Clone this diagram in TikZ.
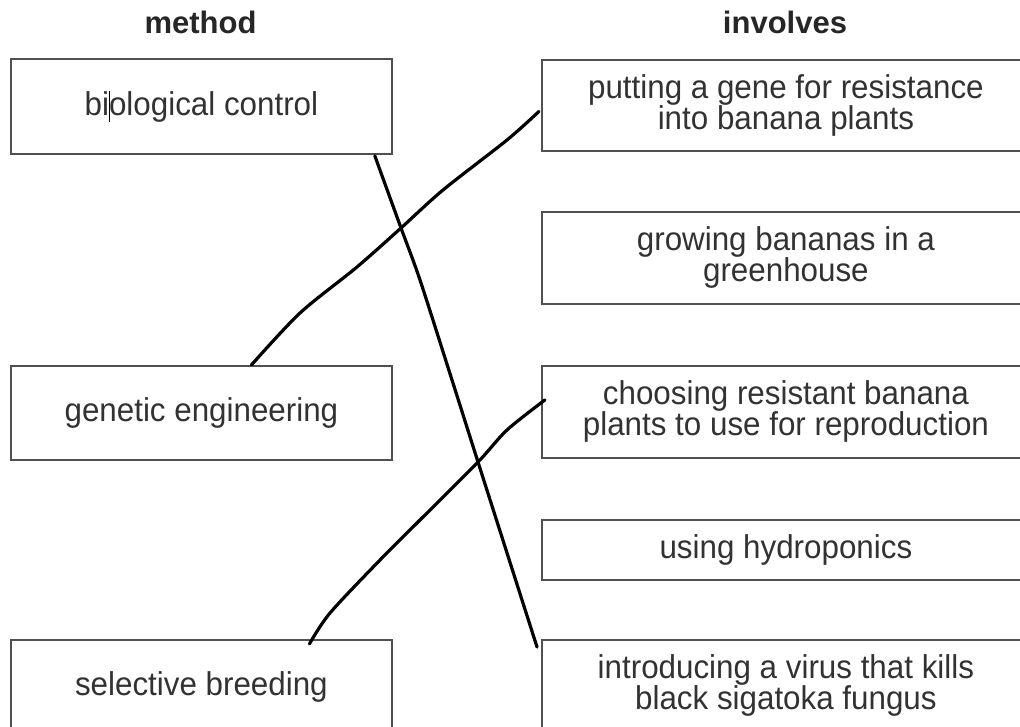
\documentclass[tikz,border=0pt]{standalone}
\usepackage{fontspec}
\setmainfont{Liberation Sans}
\newfontfamily\boxfont{Liberation Sans}[FakeStretch=0.95]
\usetikzlibrary{calc}
\definecolor{boxgray}{RGB}{80,80,80}
\definecolor{textgray}{RGB}{50,50,50}

\begin{document}
\begin{tikzpicture}[x=1pt,y=-1pt,
        choice/.style={draw=boxgray,line width=1.8pt,anchor=north west,align=center,
            text=textgray,inner sep=0pt,
            font={\boxfont\fontsize{33}{31}\selectfont\lineskiplimit=-30pt}},
        methodbox/.style={choice,minimum width=381pt},
        involvebox/.style={choice,minimum width=488pt},
        head/.style={anchor=base,text=black!85,font={\bfseries\fontsize{31}{34}\selectfont}},
        link/.style={black,line width=3.2pt,line cap=round,line join=round}
    ]
        \useasboundingbox (0,0) rectangle (1020,727);
        \clip (0,0) rectangle (1020,727);
        \node[head] (methodhd) at (200.5,34) {method};
        \node[head] (involveshd) at (785,34) {involves};
        \node[methodbox,minimum height=95pt] (bio) at (10,58)
            {bi\rlap{\color{black}\rule[-0.2em]{1.2pt}{0.95em}}ological control};
        \node[methodbox,minimum height=94pt] (gen) at (10,365) {genetic engineering};
        \node[methodbox,minimum height=95pt] (sel) at (10,639) {selective breeding};
        \node[involvebox,minimum height=91pt] (put) at (541,59)
            {putting a gene for resistance\\into banana plants};
        \node[involvebox,minimum height=92pt] (grow) at (541,211)
            {growing bananas in a\\greenhouse};
        \node[involvebox,minimum height=92pt] (choose) at (541,365)
            {choosing resistant banana\\plants to use for reproduction};
        \node[involvebox,minimum height=60pt] (hydro) at (541,519) {using hydroponics};
        \node[involvebox,minimum height=91pt] (intro) at (541,639)
            {introducing a virus that kills\\black sigatoka fungus};
        \draw[link] plot[smooth] coordinates {($(bio.south east)+(-18,1)$) (401,228) (420,280)
            (452,380) (478,462) ($(intro.north west)+(-4,8)$)};
        \draw[link] plot[smooth] coordinates {($(gen.north)+(50,0)$) (300,313) (357,267)
            (401,228) (443,190) (507,140) ($(put.west)+(-2,6)$)};
        \draw[link] plot[smooth] coordinates {($(sel.north)+(108,5)$) (330,613) (380,560)
            (420,520) (478,462) (507,430) ($(choose.west)+(4,-12)$)};
    \end{tikzpicture}
\end{document}
